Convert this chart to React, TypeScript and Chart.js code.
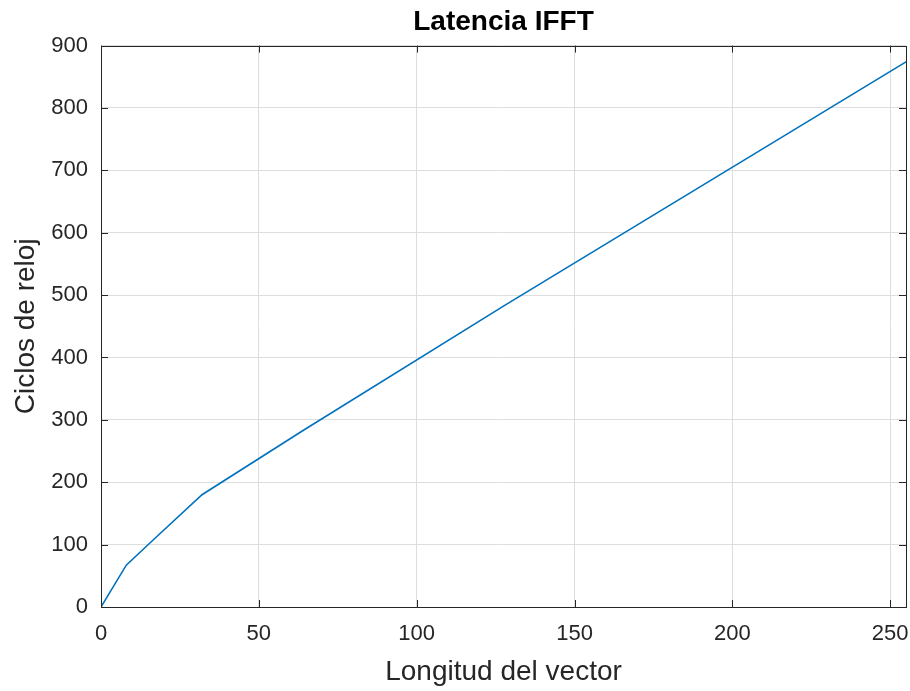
import React, { useEffect, useRef } from "react";
import { Chart, registerables } from "chart.js";

Chart.register(...registerables);

const xValues = [0, 8, 16, 32, 64, 128, 256];
const yValues = [0, 67, 105, 180, 283, 484, 877];
const xTicks = [0, 50, 100, 150, 200, 250];
const yTicks = [0, 100, 200, 300, 400, 500, 600, 700, 800, 900];
const titleText = "Latencia IFFT";
const xLabel = "Longitud del vector";
const yLabel = "Ciclos de reloj";

const AXIS_COLOR = "#262626";
const GRID_COLOR = "#dedede";
const FONT = "'Liberation Sans', Arial, Helvetica, sans-serif";

const boxPlugin = {
  id: "matlabBox",
  afterDatasetsDraw(chart: any) {
    const { ctx, chartArea } = chart;
    const { left, right, top, bottom } = chartArea;
    const xs = chart.scales.x;
    const ys = chart.scales.y;
    const tl = 7;
    ctx.save();
    ctx.strokeStyle = AXIS_COLOR;
    ctx.lineWidth = 1;
    ctx.beginPath();
    for (const t of xTicks) {
      const px = Math.round(xs.getPixelForValue(t)) + 0.5;
      ctx.moveTo(px, bottom);
      ctx.lineTo(px, bottom - tl);
      ctx.moveTo(px, top);
      ctx.lineTo(px, top + tl);
    }
    for (const t of yTicks) {
      const py = Math.round(ys.getPixelForValue(t)) + 0.5;
      ctx.moveTo(left, py);
      ctx.lineTo(left + tl, py);
      ctx.moveTo(right, py);
      ctx.lineTo(right - tl, py);
    }
    ctx.stroke();
    ctx.strokeRect(Math.round(left) + 0.5, Math.round(top) + 0.5, Math.round(right - left), Math.round(bottom - top));
    ctx.restore();
  },
};

export default function App() {
  const canvasRef = useRef<HTMLCanvasElement | null>(null);

  useEffect(() => {
    if (!canvasRef.current) return;
    const chart = new Chart(canvasRef.current, {
      type: "line",
      data: {
        datasets: [
          {
            data: xValues.map((x, i) => ({ x, y: yValues[i] })),
            borderColor: "#0072BD",
            borderWidth: 1.6,
            pointRadius: 0,
            fill: false,
            tension: 0,
          },
        ],
      },
      options: {
        animation: false,
        responsive: true,
        maintainAspectRatio: false,
        layout: { padding: { left: 0, right: 4, top: 0, bottom: 0 } },
        plugins: {
          legend: { display: false },
          tooltip: { enabled: false },
          title: {
            display: true,
            text: titleText,
            fullSize: false,
            color: "#000000",
            font: { family: FONT, size: 28, weight: "bold" },
            padding: { top: 5, bottom: 7 },
          },
        },
        scales: {
          x: {
            type: "linear",
            min: 0,
            max: 255,
            afterBuildTicks: (scale: any) => {
              scale.ticks = xTicks.map((v) => ({ value: v }));
            },
            afterFit: (scale: any) => {
              scale.height = 84;
              scale.paddingLeft = 0;
              scale.paddingRight = 0;
            },
            ticks: {
              color: AXIS_COLOR,
              font: { family: FONT, size: 22 },
              padding: 14,
              maxRotation: 0,
            },
            grid: { color: GRID_COLOR, drawTicks: false, lineWidth: 1 },
            border: { display: false },
            title: {
              display: true,
              text: xLabel,
              color: AXIS_COLOR,
              font: { family: FONT, size: 28 },
              padding: { top: 0, bottom: 2 },
            },
          },
          y: {
            type: "linear",
            min: 0,
            max: 900,
            afterBuildTicks: (scale: any) => {
              scale.ticks = yTicks.map((v) => ({ value: v }));
            },
            afterFit: (scale: any) => {
              scale.width = 101;
              scale.paddingTop = 0;
              scale.paddingBottom = 0;
            },
            ticks: {
              color: AXIS_COLOR,
              font: { family: FONT, size: 22 },
              padding: 13,
            },
            grid: { color: GRID_COLOR, drawTicks: false, lineWidth: 1 },
            border: { display: false },
            title: {
              display: true,
              text: yLabel,
              color: AXIS_COLOR,
              font: { family: FONT, size: 28 },
              padding: { top: 9, bottom: 0 },
            },
          },
        },
      },
      plugins: [boxPlugin],
    });
    return () => chart.destroy();
  }, []);

  return (
    <div style={{ position: "absolute", left: 0, top: 0, width: 910, height: 691, background: "#ffffff" }}>
      <canvas ref={canvasRef} />
    </div>
  );
}
